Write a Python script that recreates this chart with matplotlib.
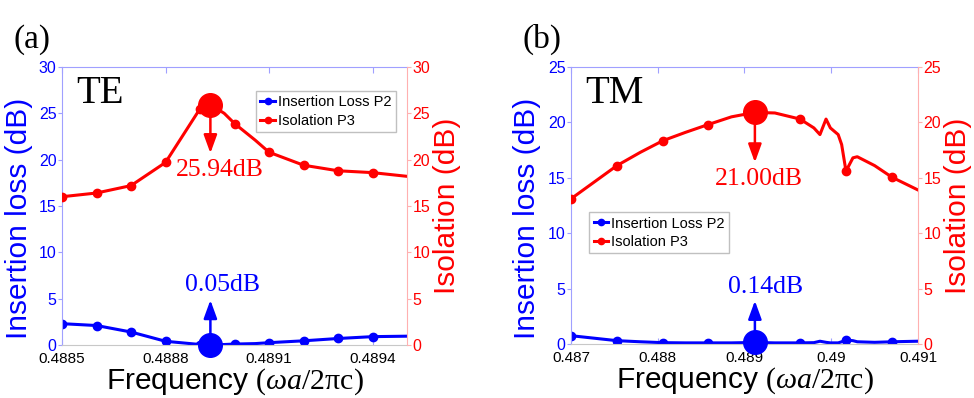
import matplotlib
matplotlib.use("Agg")
import matplotlib.pyplot as plt

plt.rcParams["font.family"] = ["Liberation Sans", "DejaVu Sans"]
plt.rcParams["mathtext.fontset"] = "custom"
plt.rcParams["mathtext.rm"] = "Liberation Serif"
plt.rcParams["mathtext.it"] = "Liberation Serif:italic"

# --- data ---
te_freq = [0.4885, 0.4886, 0.4887, 0.4888, 0.4889, 0.48893, 0.48897,
           0.4890, 0.48906, 0.4891, 0.4892, 0.4893, 0.4894, 0.4895]
te_il = [2.3, 2.1, 1.4, 0.4, 0.05, 0.05, 0.05, 0.1, 0.15, 0.25, 0.45, 0.7, 0.9, 0.95]
te_iso = [16.0, 16.4, 17.2, 19.7, 25.5, 25.94, 25.0, 23.9, 22.1, 20.8, 19.4, 18.8, 18.6, 18.2]
te_marks = [0, 1, 2, 3, 4, 7, 9, 10, 11, 12]
te_peak = 5
te_xticks = [0.4885, 0.4888, 0.4891, 0.4894]

tm_freq = [0.4870, 0.48753, 0.48780, 0.48806, 0.48832, 0.48858, 0.48885, 0.48912,
           0.48935, 0.48964, 0.48980, 0.48987, 0.48994, 0.48999, 0.49008, 0.49012,
           0.49017, 0.49025, 0.49030, 0.4905, 0.4907, 0.4910]
tm_il = [0.75, 0.3, 0.2, 0.12, 0.1, 0.1, 0.1, 0.14, 0.1, 0.1, 0.12, 0.25, 0.15, 0.1,
         0.1, 0.2, 0.35, 0.3, 0.2, 0.15, 0.2, 0.25]
tm_iso = [13.1, 16.1, 17.3, 18.35, 19.1, 19.8, 20.5, 20.9, 20.85, 20.3, 19.5, 18.9,
          20.3, 19.5, 18.9, 18.0, 15.6, 16.8, 16.9, 16.1, 15.05, 13.9]
tm_marks = [0, 1, 3, 5, 9, 16, 20]
tm_peak = 7
tm_xticks = [0.487, 0.488, 0.489, 0.49, 0.491]
tm_xticklabels = ["0.487", "0.488", "0.489", "0.49", "0.491"]

BLUE = "#0000ff"
RED = "#ff0000"
LBLUE = "#a0a0ff"
LRED = "#ffb0b0"


def panel(fig, rect, freq, il, iso, marks, peak, xlim, ylim, xticks, xticklabels,
          mode, tag, leg_loc, leg_anchor, iso_txt, il_txt, ann):
    ax = fig.add_axes(rect)
    ax2 = ax.twinx()
    ax.patch.set_visible(False)

    l1, = ax.plot(freq, il, color=BLUE, lw=2.2, marker="o", ms=6, markevery=marks)
    l2, = ax2.plot(freq, iso, color=RED, lw=2.2, marker="o", ms=6, markevery=marks)
    ax.plot(freq[peak], il[peak], "o", color=BLUE, ms=17, clip_on=False, zorder=5)
    ax2.plot(freq[peak], iso[peak], "o", color=RED, ms=17, clip_on=False, zorder=5)

    for a in (ax, ax2):
        a.set_xlim(xlim)
        a.set_ylim(ylim)
        a.set_yticks(range(0, ylim[1] + 1, 5))
    ax.set_xticks(xticks)
    ax.set_xticklabels(xticklabels)

    ax.spines["left"].set_color(LBLUE)
    ax.spines["top"].set_color(LBLUE)
    ax.spines["bottom"].set_color("#c8c8c8")
    ax.spines["right"].set_visible(False)
    ax2.spines["right"].set_color(LRED)
    ax2.spines["left"].set_visible(False)
    ax2.spines["top"].set_visible(False)
    ax2.spines["bottom"].set_visible(False)

    ax.tick_params(axis="y", direction="out", length=3, color=LBLUE, labelcolor=BLUE,
                   labelsize=11.5, pad=1)
    ax2.tick_params(axis="y", direction="out", length=3, color=LRED, labelcolor=RED,
                    labelsize=11.5, pad=1)
    ax.tick_params(axis="x", direction="in", top=True, length=4, color=LBLUE,
                   labelcolor="black", labelsize=11, pad=5)

    ax.set_ylabel("Insertion loss (dB)", color=BLUE, fontsize=21.5)
    ax.yaxis.set_label_coords(-0.085, 0.455)
    ax2.set_ylabel("Isolation (dB)", color=RED, fontsize=21.5, labelpad=2)
    ax.set_xlabel(r"Frequency $(\omega a/2\mathrm{\pi c})$", fontsize=21.5, labelpad=0)

    ax.text(0.04, 0.97, mode, transform=ax.transAxes, fontsize=28, va="top",
            family="Liberation Serif")
    fig.text(rect[0] - 0.05, 0.88, tag, fontsize=24, family="Liberation Serif")

    leg = ax.legend([l1, l2], ["Insertion Loss P2", "Isolation P3"], loc=leg_loc,
                    bbox_to_anchor=leg_anchor, fontsize=10.5, handlelength=1.0,
                    handletextpad=0.2, labelspacing=0.3, borderpad=0.3,
                    markerscale=0.75, fancybox=False, edgecolor="#c0c0c0",
                    framealpha=1)
    leg.set_zorder(10)

    x0 = freq[peak]
    arrow = dict(arrowstyle="<|-,head_length=0.55,head_width=0.2", color=RED, lw=1.8,
                 shrinkA=0, shrinkB=0, mutation_scale=20)
    ax2.annotate("", xy=(x0, iso[peak]), xytext=(0, ann[0]), textcoords="offset points",
                 arrowprops=arrow)
    ax2.annotate(iso_txt, xy=(x0, iso[peak]), xytext=ann[1], textcoords="offset points",
                 ha="center", va="center", color=RED, fontsize=18.5,
                 family="Liberation Serif")
    arrow_b = dict(arrow, color=BLUE)
    ax.annotate("", xy=(x0, il[peak]), xytext=(0, ann[2]), textcoords="offset points",
                arrowprops=arrow_b)
    ax.annotate(il_txt, xy=(x0, il[peak]), xytext=ann[3], textcoords="offset points",
                ha="center", va="center", color=BLUE, fontsize=18.5,
                family="Liberation Serif")
    return ax, ax2


fig = plt.figure(figsize=(9.74, 3.98), dpi=100)

panel(fig, [0.0637, 0.1332, 0.3542, 0.6985], te_freq, te_il, te_iso, te_marks, te_peak,
      (0.4885, 0.4895), (0, 30), te_xticks, [f"{v:.4f}" for v in te_xticks],
      "TE", "(a)", "upper right", (0.988, 0.94), "25.94dB", "0.05dB",
      (-35, (6.5, -47), 32, (8.6, 43)))

panel(fig, [0.5862, 0.1357, 0.3563, 0.696], tm_freq, tm_il, tm_iso, tm_marks, tm_peak,
      (0.487, 0.491), (0, 25), tm_xticks, tm_xticklabels,
      "TM", "(b)", "upper left", (0.032, 0.502), "21.00dB", "0.14dB",
      (-36, (3, -48), 30, (8, 40)))

fig.savefig("out.png", dpi=100)
